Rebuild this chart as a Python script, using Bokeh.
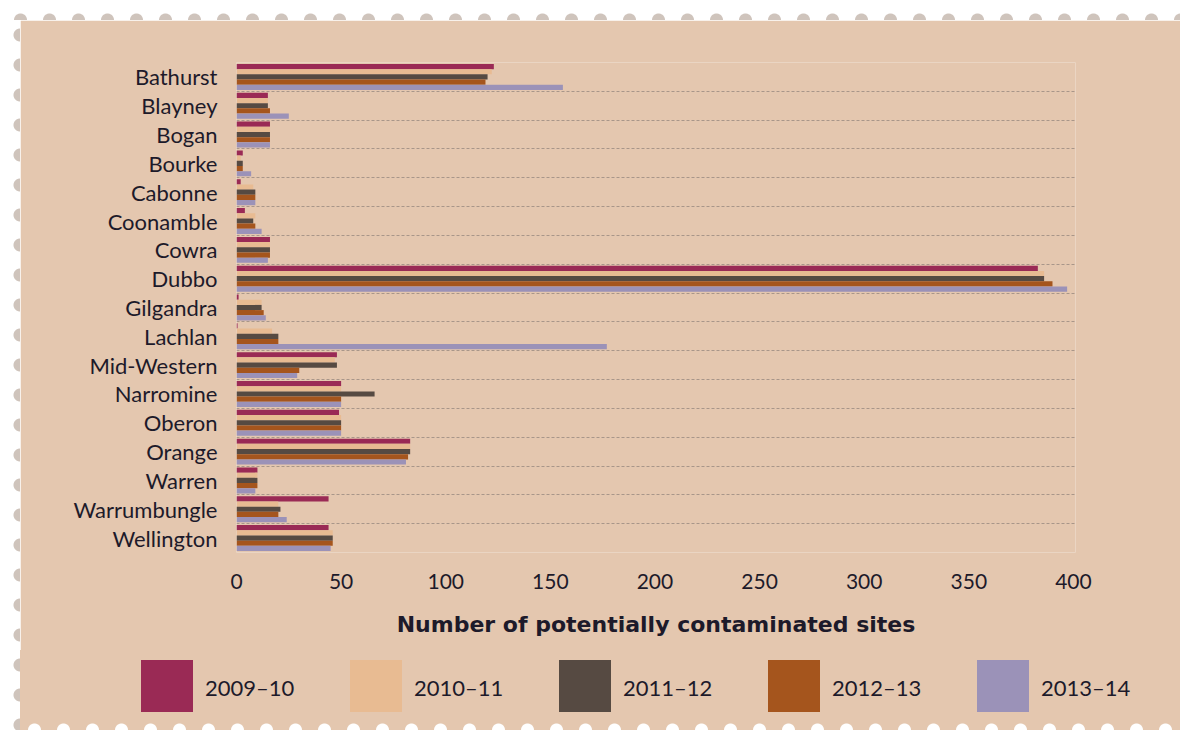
from bokeh.plotting import figure
from bokeh.models import Range1d, FixedTicker, Div
from bokeh.layouts import column, row
from bokeh.embed import file_html
from bokeh.resources import INLINE

councils = ["Bathurst", "Blayney", "Bogan", "Bourke", "Cabonne", "Coonamble", "Cowra",
            "Dubbo", "Gilgandra", "Lachlan", "Mid-Western", "Narromine", "Oberon",
            "Orange", "Warren", "Warrumbungle", "Wellington"]
years = ["2009\u201310", "2010\u201311", "2011\u201312", "2012\u201313", "2013\u201314"]

v_2009_10 = [123, 15, 16, 3, 2, 4, 16, 383, 1, 0.5, 48, 50, 49, 83, 10, 44, 44]
v_2010_11 = [122, 15, 16, 2, 8, 9, 16, 386, 12, 17, 47, 50, 50, 83, 10, 20, 46]
v_2011_12 = [120, 15, 16, 3, 9, 8, 16, 386, 12, 20, 48, 66, 50, 83, 10, 21, 46]
v_2012_13 = [119, 16, 16, 3, 9, 9, 16, 390, 13, 20, 30, 50, 50, 82, 10, 20, 46]
v_2013_14 = [156, 25, 16, 7, 9, 12, 15, 397, 14, 177, 29, 50, 50, 81, 9, 24, 45]
series = [v_2009_10, v_2010_11, v_2011_12, v_2012_13, v_2013_14]

x_ticks = [0, 50, 100, 150, 200, 250, 300, 350, 400]

colors = ["#9a2a55", "#e8bb92", "#564a42", "#a5551d", "#9b92b8"]
BG = "#e4c7af"
TXT = "#1d1a2a"
FONT = "Lato"
EDGE = "#cfc4bc"

n = len(councils)
p = figure(width=1160, height=630, output_backend="svg", toolbar_location=None,
           x_range=Range1d(0, 401), y_range=Range1d(n - 0.5, -0.5),
           min_border_left=216, min_border_right=105, min_border_top=42,
           min_border_bottom=98, margin=(0, 0, 0, 0))
p.background_fill_color = BG
p.border_fill_color = BG
p.outline_line_color = None

bar_h = 0.18
offsets = [-0.36, -0.18, 0.0, 0.18, 0.36]
idx = list(range(n))
for vals, col, off in zip(series, colors, offsets):
    p.hbar(y=[i + off for i in idx], left=0, right=vals, height=bar_h,
           fill_color=col, line_color=None)

# y axis
p.yaxis.ticker = FixedTicker(ticks=idx)
p.yaxis.major_label_overrides = {i: c for i, c in enumerate(councils)}
p.yaxis.axis_line_color = None
p.yaxis.major_tick_line_color = None
p.yaxis.minor_tick_line_color = None
p.yaxis.major_label_standoff = 13
p.yaxis.major_label_text_font = FONT
p.yaxis.major_label_text_font_size = "22px"
p.yaxis.major_label_text_color = TXT

# x axis
p.xaxis.ticker = FixedTicker(ticks=x_ticks)
p.xaxis.axis_line_color = None
p.xaxis.major_tick_line_color = None
p.xaxis.minor_tick_line_color = None
p.xaxis.major_label_standoff = 15
p.xaxis.major_label_text_font = FONT
p.xaxis.major_label_text_font_size = "21px"
p.xaxis.major_label_text_color = TXT
p.xaxis.axis_label = "Number of potentially contaminated sites"
p.xaxis.axis_label_text_font = "DejaVu Sans"
p.xaxis.axis_label_text_font_style = "bold"
p.xaxis.axis_label_text_font_size = "22px"
p.xaxis.axis_label_text_color = TXT
p.xaxis.axis_label_standoff = 20

# grid
p.xgrid.grid_line_color = None
p.ygrid.ticker = FixedTicker(ticks=[i - 0.5 for i in range(n + 1)])
p.ygrid.grid_line_color = "#8f8279"
p.ygrid.grid_line_dash = "3 2"
p.ygrid.grid_line_width = 1
p.ygrid.grid_line_alpha = 0.7

# legend strip as HTML (real text), below the chart
parts = ['<div style="position:relative;width:1160px;height:80px;background:%s;'
         'font-family:Lato;overflow:hidden;">' % BG]
for i, (c, yr) in enumerate(zip(colors, years)):
    left = 121 + i * 209
    parts.append('<div style="position:absolute;left:%dpx;top:10px;width:52px;'
                 'height:52px;background:%s;"></div>' % (left, c))
    parts.append('<div style="position:absolute;left:%dpx;top:10px;height:52px;'
                 'line-height:56px;font-size:22px;color:%s;white-space:nowrap;">%s</div>'
                 % (left + 64, TXT, yr))
parts.append('<div style="position:absolute;left:0;bottom:0;width:1160px;height:9px;'
             'background-image:radial-gradient(circle at 50% 100%, #ffffff 0, #ffffff 6px, '
             'rgba(255,255,255,0) 7px);background-size:29px 9px;background-repeat:repeat-x;"></div>')
parts.append('</div>')
legend_div = Div(text="".join(parts), width=1160, height=80, margin=(0, 0, 0, 0))

top_edge = Div(text='<div style="width:1180px;height:20px;background-image:'
               'radial-gradient(circle at 50% 100%, ' + EDGE + ' 0, ' + EDGE + ' 6px, '
               'rgba(255,255,255,0) 7px);background-size:29px 20px;'
               'background-position:6px 0;background-repeat:repeat-x;"></div>',
               width=1180, height=20, margin=(0, 0, 0, 0))
left_edge = Div(text='<div style="width:20px;height:710px;background-image:'
                'radial-gradient(circle at 100% 50%, ' + EDGE + ' 0, ' + EDGE + ' 6px, '
                'rgba(255,255,255,0) 7px);background-size:20px 30px;'
                'background-repeat:repeat-y;"></div>',
                width=20, height=710, margin=(0, 0, 0, 0))

layout = column(top_edge, row(left_edge, column(p, legend_div, spacing=0), spacing=0),
                spacing=0)
open("out.html", "w").write(file_html(layout, INLINE))
